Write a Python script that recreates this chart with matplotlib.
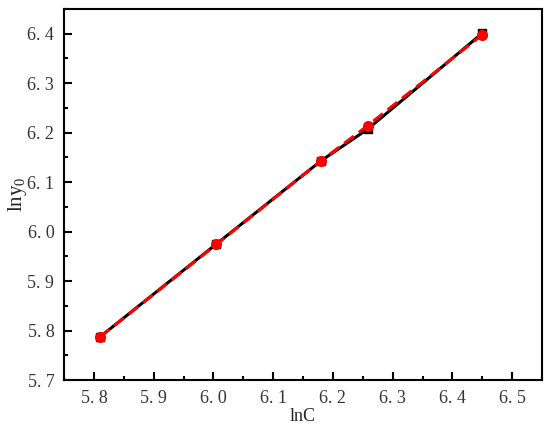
import matplotlib.pyplot as plt
from matplotlib.ticker import MultipleLocator

plt.rcParams['font.family'] = ['Liberation Serif', 'DejaVu Serif']
plt.rcParams['mathtext.fontset'] = 'custom'
plt.rcParams['mathtext.rm'] = 'Liberation Serif'
plt.rcParams['mathtext.it'] = 'Liberation Serif:italic'

# fitted line (black squares) and measured points (red circles)
lnC = [5.81, 6.005, 6.18, 6.258, 6.45]
lny_fit = [5.787, 5.975, 6.143, 6.207, 6.401]
lny_exp = [5.787, 5.974, 6.143, 6.214, 6.398]

fig = plt.figure(figsize=(5.5, 4.29), dpi=100)
ax = fig.add_axes([0.1164, 0.1142, 0.8691, 0.8648])

ax.plot(lnC, lny_fit, color='black', lw=2.2, marker='s', ms=6, zorder=2)
ax.plot(lnC, lny_exp, color='red', lw=2.2, ls=(0, (4, 2)), marker='o', ms=7, zorder=3)

ax.set_xlim(5.75, 6.55)
ax.set_ylim(5.7, 6.45)
ax.xaxis.set_major_locator(MultipleLocator(0.1))
ax.xaxis.set_minor_locator(MultipleLocator(0.05))
ax.yaxis.set_major_locator(MultipleLocator(0.1))
ax.yaxis.set_minor_locator(MultipleLocator(0.05))
ax.xaxis.set_major_formatter(lambda v, p: f'{v:.1f}'.replace('.', '. '))
ax.yaxis.set_major_formatter(lambda v, p: f'{v:.1f}'.replace('.', '. '))

ax.tick_params(which='both', direction='in', top=False, right=False, width=1.5, labelsize=13, labelcolor='#333333')
ax.tick_params(which='major', length=6, pad=7)
ax.tick_params(which='minor', length=3)
for s in ax.spines.values():
    s.set_linewidth(1.5)

ax.set_xlabel('lnC', fontsize=13, labelpad=1, color='#222222')
ax.set_ylabel(r'lny$_{\mathit{0}}$', fontsize=15, labelpad=-1, color='#222222')

fig.savefig('out.png', dpi=100)
